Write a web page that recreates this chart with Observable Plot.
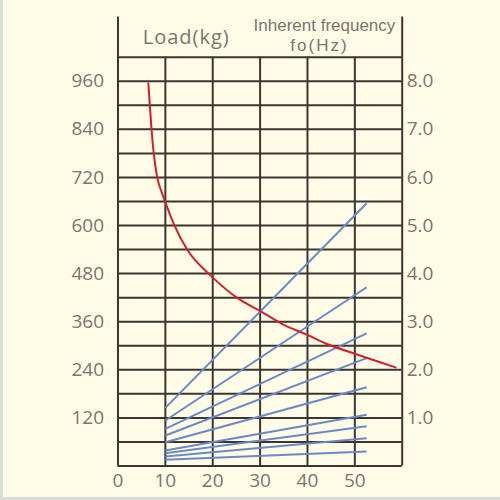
<!DOCTYPE html>
<html><head><meta charset="utf-8">
<script src="https://cdn.jsdelivr.net/npm/d3@7"></script>
<script src="https://cdn.jsdelivr.net/npm/@observablehq/plot@0.6"></script>
<style>
html,body{margin:0;padding:0;background:#fefce6;}
#chart{position:relative;width:500px;height:500px;}
#chart svg{display:block;}
.edgeL{position:absolute;left:0;top:0;width:3px;height:500px;background:#d9dcd8;}
.edgeB{position:absolute;left:0;top:497px;width:500px;height:3px;background:#dcdcd6;}
</style></head><body><div id="chart"><div class="edgeL"></div><div class="edgeB"></div></div>
<script>
// Axis ticks
const loadTicks = [120, 240, 360, 480, 600, 720, 840, 960];
const freqTicks = [1.0, 2.0, 3.0, 4.0, 5.0, 6.0, 7.0, 8.0];
const kgPerHz = 120;
const xTicks = [0, 10, 20, 30, 40, 50];
const gridLoads = [0, 60, 120, 180, 240, 300, 360, 420, 480, 540, 600, 660, 720, 780, 840, 900, 960, 1020];
const gridX = [10, 20, 30, 40, 50];
const frameX = [0, 60];

// Header texts
const leftHeader = "Load(kg)";
const rightHeader1 = "Inherent frequency";
const rightHeader2 = "fo(Hz)";

// Red curve (load, kg)
const redX = [6.4, 6.7, 7.05, 7.5, 8.25, 9.2, 10, 11.75, 14.6, 19.1, 20, 25.1, 27.9, 30.4, 35, 40, 44, 50, 58.6];
const redLoad = [955, 904, 845, 785, 722, 684, 658, 605, 540, 480, 470, 420, 400, 384, 352, 327, 305, 280, 246];

// Blue straight lines (load at x=10 and at x=52.5)
const blueX1 = 10, blueX2 = 52.5;
const blueStart = [145, 113.5, 92.8, 76.1, 59.4, 38.7, 31.9, 23.7, 15.5];
const blueEnd = [655.7, 446, 331, 269, 196.6, 127.7, 99.3, 69.4, 36.2];

const red = redX.map((x, i) => ({x, y: redLoad[i]}));
const blue = blueStart.map((s, i) => ({x1: blueX1, y1: s, x2: blueX2, y2: blueEnd[i]}));

const gridColor = "#3b3632";
const textColor = "#7a7670";
const headFont = "'Liberation Sans', Arial, sans-serif";

const chart = Plot.plot({
  width: 500, height: 500,
  marginLeft: 117.5, marginRight: 98.3, marginTop: 56.7, marginBottom: 34.5,
  x: {domain: [0, 60], axis: null},
  y: {domain: [0, 1020], axis: null},
  style: {background: "transparent", fontFamily: "'Open Sans', sans-serif", fontSize: "19px", color: textColor},
  marks: [
    Plot.ruleY(gridLoads, {x1: 0, x2: 60, stroke: gridColor, strokeWidth: 2}),
    Plot.ruleX(gridX, {y1: 0, y2: 1020, stroke: gridColor, strokeWidth: 2}),
    Plot.ruleX(frameX, {y1: 0, y2: 1120, stroke: gridColor, strokeWidth: 2}),
    Plot.link(blue, {x1: "x1", y1: "y1", x2: "x2", y2: "y2", stroke: "#6d88c6", strokeWidth: 2}),
    Plot.line(red, {x: "x", y: "y", curve: "monotone-x", stroke: "#d3202e", strokeWidth: 2}),
    Plot.axisY(loadTicks, {anchor: "left", tickSize: 0, tickPadding: 14, label: null, fill: textColor}),
    Plot.axisY(freqTicks.map(f => f * kgPerHz), {anchor: "right", tickSize: 0, tickPadding: 4.5, label: null, fill: textColor, tickFormat: d => (d / kgPerHz).toFixed(1)}),
    Plot.axisX(xTicks, {anchor: "bottom", tickSize: 0, tickPadding: 7.5, label: null, fill: textColor}),
    Plot.text([leftHeader], {x: 14.4, y: 1069, fontSize: 20, fill: textColor, text: d => d}),
    Plot.text([rightHeader1], {x: 43.58, y: 1085.8, lineAnchor: "bottom", fontSize: 17, fontFamily: headFont, fill: textColor, text: d => d}),
    Plot.text([rightHeader2], {x: 42.53, y: 1036.5, lineAnchor: "bottom", fontSize: 17, fontFamily: headFont, fill: textColor, text: d => d})
  ]
});
document.getElementById("chart").prepend(chart);
chart.querySelectorAll("text").forEach(t => {
  if (t.textContent === leftHeader) t.setAttribute("letter-spacing", "1px");
  if (t.textContent === rightHeader2) t.setAttribute("letter-spacing", "2px");
});
</script></body></html>
